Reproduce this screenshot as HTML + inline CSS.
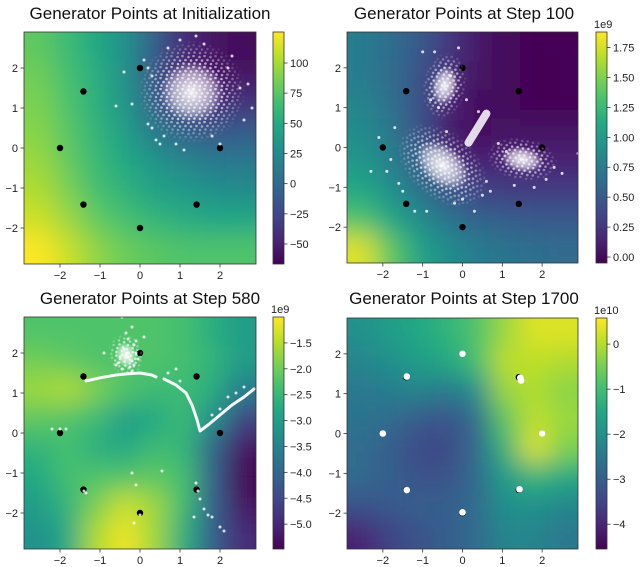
<!DOCTYPE html>
<html><head><meta charset="utf-8">
<style>
html,body{margin:0;padding:0;background:#fff;}
svg{display:block;font-family:"Liberation Sans",sans-serif;}
.tk{font-size:11px;fill:#222;}
.tt{font-size:17px;fill:#111;}
</style></head>
<body>
<svg id="fig" width="640" height="567" viewBox="0 0 640 567" xmlns="http://www.w3.org/2000/svg">
<defs>
<filter id="blur" x="-50%" y="-50%" width="200%" height="200%"><feGaussianBlur stdDeviation="13"/></filter>
<radialGradient id="fade"><stop offset="0" stop-color="#fff" stop-opacity="1"/><stop offset="0.55" stop-color="#fff" stop-opacity="0.85"/><stop offset="1" stop-color="#fff" stop-opacity="0"/></radialGradient>
<radialGradient id="core"><stop offset="0" stop-color="#fff" stop-opacity="0.95"/><stop offset="0.6" stop-color="#fff" stop-opacity="0.6"/><stop offset="1" stop-color="#fff" stop-opacity="0"/></radialGradient>
<pattern id="speck" width="11" height="11" patternUnits="userSpaceOnUse">
<circle cx="1.5" cy="2" r="1.3" fill="#fff" fill-opacity="0.85"/>
<circle cx="6.5" cy="1" r="1.3" fill="#fff" fill-opacity="0.85"/>
<circle cx="4" cy="5.5" r="1.3" fill="#fff" fill-opacity="0.85"/>
<circle cx="9.5" cy="5" r="1.3" fill="#fff" fill-opacity="0.85"/>
<circle cx="2" cy="9" r="1.3" fill="#fff" fill-opacity="0.85"/>
<circle cx="7.5" cy="8.5" r="1.3" fill="#fff" fill-opacity="0.85"/>
</pattern>
<linearGradient id="cbar" x1="0" y1="1" x2="0" y2="0">
<stop offset="0" stop-color="#440154"/><stop offset="0.1" stop-color="#482475"/><stop offset="0.2" stop-color="#414487"/><stop offset="0.3" stop-color="#355f8d"/><stop offset="0.4" stop-color="#2a788e"/><stop offset="0.5" stop-color="#21918c"/><stop offset="0.6" stop-color="#22a884"/><stop offset="0.7" stop-color="#44bf70"/><stop offset="0.8" stop-color="#7ad151"/><stop offset="0.9" stop-color="#bddf26"/><stop offset="1" stop-color="#fde725"/>
</linearGradient>
</defs>
</svg>
<script>
// ---- data ----
const modeX = [2, 1.414, 0, -1.414, -2, -1.414, 0, 1.414];
const modeY = [0, 1.414, 2, 1.414, 0, -1.414, -2, -1.414];
const axisTicks = [-2, -1, 0, 1, 2];
const titles = ["Generator Points at Initialization", "Generator Points at Step 100", "Generator Points at Step 580", "Generator Points at Step 1700"];

const heat1 = [
[.75,.68,.6,.5,.3,.12,.05,.02],
[.78,.7,.62,.5,.25,.08,.05,.05],
[.8,.72,.63,.52,.3,.15,.12,.15],
[.82,.74,.65,.56,.42,.32,.28,.3],
[.85,.76,.67,.6,.52,.46,.42,.4],
[.88,.8,.7,.64,.58,.54,.5,.48],
[.93,.85,.76,.7,.66,.62,.6,.6],
[1,.92,.83,.77,.74,.72,.72,.72]];
const heat2 = [
[.42,.36,.28,.16,.06,.02,.01,0],
[.42,.35,.25,.13,.05,.02,.01,0],
[.45,.37,.25,.1,.03,.02,.01,.01],
[.48,.4,.25,.08,.04,.05,.05,.05],
[.53,.43,.3,.14,.1,.1,.1,.1],
[.6,.5,.38,.26,.2,.18,.18,.18],
[.72,.6,.48,.38,.32,.3,.28,.28],
[.95,.75,.58,.48,.42,.38,.36,.35]];
const heat3 = [
[.72,.72,.72,.72,.72,.7,.62,.55],
[.78,.75,.72,.72,.72,.7,.65,.55],
[.85,.88,.8,.72,.68,.68,.62,.42],
[.75,.72,.68,.55,.6,.68,.5,.2],
[.65,.7,.62,.6,.68,.66,.32,.05],
[.6,.7,.72,.72,.75,.7,.3,.0],
[.55,.65,.8,.92,.85,.68,.3,.05],
[.5,.6,.88,.98,.85,.62,.3,.12]];
const heat4 = [
[.5,.55,.6,.65,.72,.85,.95,.95],
[.45,.5,.55,.6,.7,.9,.9,.88],
[.4,.42,.45,.4,.5,.85,.88,.82],
[.38,.35,.28,.25,.35,.75,.9,.85],
[.35,.3,.22,.22,.35,.65,.95,.8],
[.35,.3,.25,.25,.35,.55,.65,.6],
[.25,.28,.3,.3,.35,.5,.5,.45],
[.1,.2,.25,.3,.35,.45,.45,.4]];

const cbMin = [-66.6, -0.05, -5.48, -4.55];
const cbMax = [125.7, 1.88, -1.0, 0.58];
const cbTicks1 = [-50, -25, 0, 25, 50, 75, 100];
const cbTicks2 = [0, 0.25, 0.5, 0.75, 1.0, 1.25, 1.5, 1.75];
const cbTicks3 = [-5.0, -4.5, -4.0, -3.5, -3.0, -2.5, -2.0, -1.5];
const cbTicks4 = [-4, -3, -2, -1, 0];
const cbLabels1 = ["\u221250","\u221225","0","25","50","75","100"];
const cbLabels2 = ["0.00","0.25","0.50","0.75","1.00","1.25","1.50","1.75"];
const cbLabels3 = ["\u22125.0","\u22124.5","\u22124.0","\u22123.5","\u22123.0","\u22122.5","\u22122.0","\u22121.5"];
const cbLabels4 = ["\u22124","\u22123","\u22122","\u22121","0"];
const cbExp = ["", "1e9", "1e9", "1e10"];

// dense clusters: cx, cy, rx, ry (data units), rotation deg
const blobs1X = [1.3], blobs1Y = [1.4], blobs1RX = [1.35], blobs1RY = [1.3], blobs1R = [0];
const blobs2X = [-0.5, -0.45, 1.5], blobs2Y = [-0.45, 1.55, -0.3], blobs2RX = [1.3, 0.55, 0.9], blobs2RY = [0.85, 0.85, 0.55], blobs2R = [40, 10, 10];
const blobs3X = [-0.35], blobs3Y = [1.95], blobs3RX = [0.45], blobs3RY = [0.55], blobs3R = [-15];
// scatter dots
const dots1X = [-0.6,-0.4,-0.2,0.1,0.2,0.3,0.4,0.6,2.2,2.5,2.8,2.6,1.8,2.0,1.1,0.9,0.5,1.6,2.3,0.3,0.7,1.4,1.0,2.7,0.2];
const dots1Y = [1.05,1.9,1.1,2.2,0.6,0.5,0.2,0.3,2.0,1.5,1.0,0.7,0.3,0.1,-0.05,0.1,0.1,2.6,2.3,1.8,2.5,2.8,2.7,1.6,2.0];
const dots2X = [-2.3,-2.1,-1.8,-1.9,-1.5,-1.7,-1.6,-1.2,-0.9,-0.2,0.0,0.3,0.5,0.7,0.6,-1.0,-0.7,-0.3,0.1,-0.6,-0.8,0.4,1.1,0.9,2.3,2.5,2.1,1.8,1.3,2.9,-0.1,-0.4];
const dots2Y = [-0.6,0.25,-0.3,-0.6,-1.1,0.5,-0.9,-1.6,-1.6,-1.4,-1.3,-1.6,-1.2,-1.1,-0.85,2.4,2.4,1.8,1.2,1.0,1.2,0.9,-0.1,0.1,-0.5,-0.65,-0.8,-1.0,-0.95,-0.15,2.5,0.4];
const arcAX = [-1.35,-1.0,-0.6,-0.3,0.0,0.3,0.4];
const arcAY = [1.3,1.38,1.45,1.48,1.5,1.45,1.4];
const arcBX = [0.6,0.9,1.15,1.3,1.42,1.5,1.7,2.0,2.3,2.6,2.85];
const arcBY = [1.35,1.2,1.0,0.7,0.35,0.05,0.2,0.45,0.7,0.9,1.1];
const dots3X = [-0.6,-0.5,-0.4,-0.3,-0.2,-0.1,-0.35,-0.15,-0.45,-0.25,-0.05,-0.55,-0.3,-0.2,-0.1,0.1,-0.45,0.0,-0.9,-0.2,-0.3,-0.15,0.55,-0.2,-0.1,-2.2,-2.0,-1.85,-1.4,-1.35,0.0,-0.15,1.4,1.45,1.5,1.6,1.7,1.8,2.0,2.1,1.35,0.7,0.9,1.0,2.2,2.4,2.6,2.0,1.8];
const dots3Y = [1.7,1.9,2.1,2.0,1.8,2.3,2.5,2.2,1.6,1.65,1.85,1.75,2.35,2.65,2.0,2.4,2.9,2.95,2.0,1.55,1.9,1.7,-0.95,-1.0,-1.3,0.1,0.1,0.1,-1.45,-1.5,-2.05,-2.25,-1.25,-1.45,-1.65,-1.9,-2.05,-2.1,-2.35,-2.45,-2.1,1.5,1.6,1.3,0.9,1.0,1.15,0.6,0.45];
const dots4X = [2.0,1.45,1.47,0.0,-1.4,-2.0,-1.4,0.0,1.43];
const dots4Y = [0.0,1.4,1.33,2.0,1.43,0.0,-1.42,-1.98,-1.4];

// ---- layout ----
const panels = [
 {x0:24,y0:32,w:232,h:232,cx:273,cw:11,heat:heat1,tk:cbTicks1,tl:cbLabels1},
 {x0:347,y0:32,w:231,h:231,cx:596,cw:11,heat:heat2,tk:cbTicks2,tl:cbLabels2},
 {x0:24,y0:317,w:232,h:232,cx:273,cw:11,heat:heat3,tk:cbTicks3,tl:cbLabels3},
 {x0:347,y0:318,w:231,h:231,cx:596,cw:11,heat:heat4,tk:cbTicks4,tl:cbLabels4}];
const titleX = [150, 464, 150, 464], titleY = [19, 19, 304, 304];
const NS = "http://www.w3.org/2000/svg";
const svg = document.getElementById('fig');
const defs = svg.querySelector('defs');
const vir = ["#440154","#482475","#414487","#355f8d","#2a788e","#21918c","#22a884","#44bf70","#7ad151","#bddf26","#fde725"];
function hex(h){return [1,3,5].map(i=>parseInt(h.substr(i,2),16));}
function viridis(t){t=Math.max(0,Math.min(1,t));const f=t*10,i=Math.min(9,Math.floor(f)),r=f-i;const a=hex(vir[i]),b=hex(vir[i+1]);return "rgb("+a.map((v,k)=>Math.round(v+(b[k]-v)*r)).join(",")+")";}
function mk(tag, attrs, parent){const e=document.createElementNS(NS,tag);for(const k in attrs)e.setAttribute(k,attrs[k]);(parent||svg).appendChild(e);return e;}
let maskId = 0;

panels.forEach((p,pi)=>{
  const sx = v => p.x0 + (v + 2.9) / 5.8 * p.w;
  const sy = v => p.y0 + (2.9 - v) / 5.8 * p.h;
  const g = mk('g',{});
  
  
  const t = mk('text',{x:titleX[pi],y:titleY[pi],'text-anchor':'middle',class:'tt'},g);
  t.textContent = titles[pi];
  
  
  const cp = mk('clipPath',{id:'clip'+pi},defs);
  mk('rect',{x:p.x0,y:p.y0,width:p.w,height:p.h},cp);
  const hc = mk('g',{'clip-path':'url(#clip'+pi+')'},g);
  
  
  const hb = mk('g',{filter:'url(#blur)'},hc);
  const n = p.heat.length, cw = p.w/n, ch = p.h/n;
  p.heat.forEach((row,r)=>row.forEach((v,c)=>{
    let x=p.x0+c*cw, y=p.y0+r*ch, w=cw+1, h=ch+1;
    if(c===0){x-=45;w+=45;} if(c===n-1){w+=45;}
    if(r===0){y-=45;h+=45;} if(r===n-1){h+=45;}
    const cell = mk('rect',{x:x,y:y,width:w,height:h,fill:viridis(v)},hb);
    
    
  }));
  const pts = mk('g',{'clip-path':'url(#clip'+pi+')'},g);
  
  
  modeX.forEach((mx,i)=>{
    const m = mk('circle',{cx:sx(mx),cy:sy(modeY[i]),r:3.2,fill:'#000'},pts);
    
    
  });
  const blobSets = [[blobs1X,blobs1Y,blobs1RX,blobs1RY,blobs1R],[blobs2X,blobs2Y,blobs2RX,blobs2RY,blobs2R],[blobs3X,blobs3Y,blobs3RX,blobs3RY,blobs3R],null][pi];
  if(blobSets){ blobSets[0].forEach((bx,i)=>{
    const cx=sx(bx), cy=sy(blobSets[1][i]), rx=blobSets[2][i]*p.w/5.8, ry=blobSets[3][i]*p.h/5.8;
    const tr='rotate('+blobSets[4][i]+' '+cx+' '+cy+')';
    const id='bm'+(maskId++);
    const m = mk('mask',{id:id,maskUnits:'userSpaceOnUse',x:0,y:0,width:640,height:567},defs);
    mk('ellipse',{cx:cx,cy:cy,rx:rx,ry:ry,fill:'url(#fade)',transform:tr},m);
    const bg = mk('g',{mask:'url(#'+id+')'},pts);
    
    
    mk('rect',{x:cx-rx-20,y:cy-rx-20,width:2*rx+40,height:2*rx+40,fill:'url(#speck)',transform:tr},bg);
    mk('ellipse',{cx:cx,cy:cy,rx:rx*0.6,ry:ry*0.6,fill:'url(#core)',transform:tr},bg);
  });}
  if(pi===1){
    const s = mk('line',{x1:sx(0.15),y1:sy(0.12),x2:sx(0.6),y2:sy(0.85),stroke:'#fff','stroke-width':8,'stroke-linecap':'round','stroke-opacity':0.85},pts);
    
    
  }
  if(pi===2){
    [[arcAX,arcAY],[arcBX,arcBY]].forEach(([ax,ay])=>{
      const pl = mk('polyline',{points:ax.map((v,i)=>sx(v)+','+sy(ay[i])).join(' '),fill:'none',stroke:'#fff','stroke-width':3,'stroke-linejoin':'round','stroke-linecap':'round','stroke-opacity':0.95},pts);
      
      
    });
  }
  const dx = [dots1X,dots2X,dots3X,dots4X][pi], dy=[dots1Y,dots2Y,dots3Y,dots4Y][pi];
  dx.forEach((v,i)=>{
    const d = mk('circle',{cx:sx(v),cy:sy(dy[i]),r:pi===3?3.3:1.5,fill:'#fff','fill-opacity':pi===3?1:0.8},pts);
    
    
  });
  mk('rect',{x:p.x0,y:p.y0,width:p.w,height:p.h,fill:'none',stroke:'#333','stroke-width':0.8},g);
  axisTicks.forEach(v=>{
    mk('line',{x1:sx(v),x2:sx(v),y1:p.y0+p.h,y2:p.y0+p.h+3.5,stroke:'#333','stroke-width':0.8},g);
    const tx = mk('text',{x:sx(v),y:p.y0+p.h+15,'text-anchor':'middle',class:'tk'},g);
    tx.textContent = v<0?'\u2212'+(-v):String(v);
    
    
    mk('line',{x1:p.x0-3.5,x2:p.x0,y1:sy(v),y2:sy(v),stroke:'#333','stroke-width':0.8},g);
    const ty = mk('text',{x:p.x0-6,y:sy(v)+4,'text-anchor':'end',class:'tk'},g);
    ty.textContent = v<0?'\u2212'+(-v):String(v);
    
    
  });
  const cb = mk('rect',{x:p.cx,y:p.y0,width:p.cw,height:p.h,fill:'url(#cbar)',stroke:'#333','stroke-width':0.8},g);
  
  
  const cy = v => p.y0 + (cbMax[pi]-v)/(cbMax[pi]-cbMin[pi])*p.h;
  p.tk.forEach((v,i)=>{
    mk('line',{x1:p.cx+p.cw,x2:p.cx+p.cw+3.5,y1:cy(v),y2:cy(v),stroke:'#333','stroke-width':0.8},g);
    const l = mk('text',{x:p.cx+p.cw+6,y:cy(v)+4,class:'tk'},g);
    l.textContent = p.tl[i];
    
    
  });
  if(cbExp[pi]){
    const e = mk('text',{x:p.cx-2,y:p.y0-4,class:'tk'},g);
    e.textContent = cbExp[pi];
    
    
  }
});
</script>
</body></html>
